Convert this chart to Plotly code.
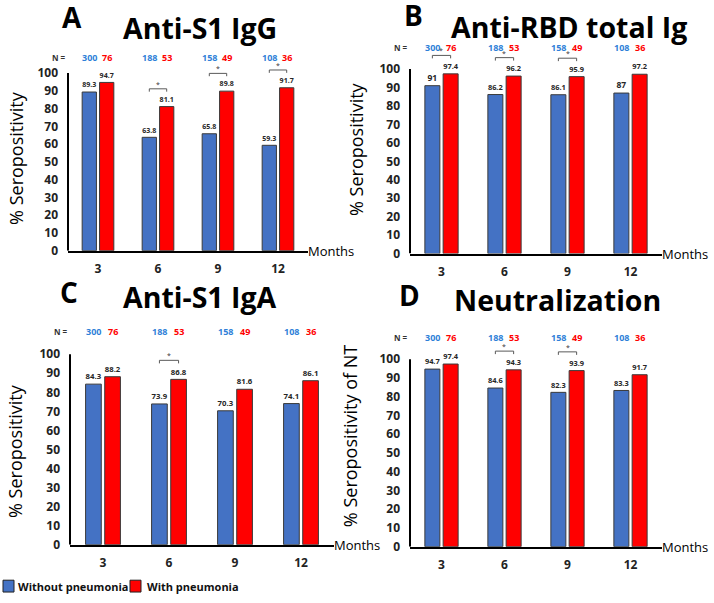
import plotly.graph_objects as go

# ---------------- data ----------------
months = ["3", "6", "9", "12"]
n_without = [300, 188, 158, 108]
n_with = [76, 53, 49, 36]

igg_without = [89.3, 63.8, 65.8, 59.3]
igg_with = [94.7, 81.1, 89.8, 91.7]
igg_sig = [1, 2, 3]

rbd_without = [91, 86.2, 86.1, 87]
rbd_with = [97.4, 96.2, 95.9, 97.2]
rbd_sig = [0, 1, 2]

iga_without = [84.3, 73.9, 70.3, 74.1]
iga_with = [88.2, 86.8, 81.6, 86.1]
iga_sig = [1]

nt_without = [94.7, 84.6, 82.3, 83.3]
nt_with = [97.4, 94.3, 93.9, 91.7]
nt_sig = [1, 2]

series_names = ["Without pneumonia", "With pneumonia"]
y_ticks = [0, 10, 20, 30, 40, 50, 60, 70, 80, 90, 100]

# ---------------- styling ----------------
W, H = 714, 603
FONT = "Open Sans"
BLUE = "#4472C4"
RED = "#FF0000"
N_BLUE = "#2F7FD8"
OUTLINE = "#3a3a3a"
BARGAP = 0.42
BARGROUPGAP = 0.18
OFF = (1 - BARGAP) / 4  # centre offset of each bar within its group


def px_x(p):
    return p / W


def px_y(p):
    return 1 - p / H


panels = [
    dict(letter="A", title="Anti-S1 IgG", ytitle="% Seropositivity",
         a=igg_without, b=igg_with, sig=igg_sig,
         x0=68, x1=308, zero=254, hundred=74, n_y=58,
         letter_xy=(72, 17), title_xy=(200, 28), ytitle_xy=(16, 160)),
    dict(letter="B", title="Anti-RBD total Ig", ytitle="% Seropositivity",
         a=rbd_without, b=rbd_with, sig=rbd_sig,
         x0=410, x1=662, zero=257, hundred=70, n_y=48,
         letter_xy=(413, 15), title_xy=(569, 27), ytitle_xy=(356, 151)),
    dict(letter="C", title="Anti-S1 IgA", ytitle="% Seropositivity",
         a=iga_without, b=iga_with, sig=iga_sig,
         x0=70, x1=334, zero=552, hundred=359, n_y=336,
         letter_xy=(69, 296), title_xy=(200, 301), ytitle_xy=(15, 457)),
    dict(letter="D", title="Neutralization", ytitle="% Seropositivity of NT",
         a=nt_without, b=nt_with, sig=nt_sig,
         x0=410, x1=662, zero=554, hundred=364, n_y=342,
         letter_xy=(410, 299), title_xy=(557, 304), ytitle_xy=(350, 442)),
]

fig = go.Figure()
annotations = []
shapes = []
layout_axes = {}
cats = list(range(len(months)))


def paper_text(x, y, text, size, weight="normal", angle=0, xanchor="center", color="black"):
    return dict(x=x, y=y, xref="paper", yref="paper", text=text, showarrow=False,
                xanchor=xanchor, yanchor="middle", textangle=angle,
                font=dict(family=FONT, size=size, color=color, weight=weight))


for k, p in enumerate(panels):
    idx = "" if k == 0 else str(k + 1)
    xa, ya = "x" + idx, "y" + idx
    scale = (p["zero"] - p["hundred"]) / 100.0
    top = p["zero"] - 110 * scale

    for vals, color, name in ((p["a"], BLUE, series_names[0]), (p["b"], RED, series_names[1])):
        fig.add_trace(go.Bar(
            x=cats, y=vals, name=name, xaxis=xa, yaxis=ya,
            marker=dict(color=color, line=dict(color=OUTLINE, width=1)),
            text=[f"{v:g}" for v in vals], textposition="outside",
            textfont=dict(family=FONT, size=8.5, color="#262626", weight="bold"),
            cliponaxis=False, showlegend=False, hoverinfo="x+y",
        ))

    # significance brackets
    for i in p["sig"]:
        h = p["b"][i] + 10
        fig.add_trace(go.Scatter(
            x=[i - OFF, i - OFF, i + OFF, i + OFF], y=[h - 1.6, h, h, h - 1.6],
            mode="lines", line=dict(color="#595959", width=1),
            xaxis=xa, yaxis=ya, showlegend=False, hoverinfo="skip",
        ))
        annotations.append(dict(x=i, y=h, xref=xa, yref=ya, text="*", showarrow=False,
                                xanchor="center", yanchor="bottom", yshift=-2,
                                font=dict(family=FONT, size=7, color="#333")))

    layout_axes["xaxis" + idx] = dict(
        domain=[px_x(p["x0"]), px_x(p["x1"])], anchor=ya, range=[-0.5, len(months) - 0.5],
        tickvals=cats, ticktext=months, showgrid=False, zeroline=False,
        showline=True, linecolor="black", linewidth=2, ticks="", ticklabelstandoff=6,
        tickfont=dict(family=FONT, size=12, color="#222", weight="bold"), fixedrange=True,
    )
    layout_axes["yaxis" + idx] = dict(
        domain=[px_y(p["zero"]), px_y(top)], anchor=xa, range=[0, 110],
        tickvals=y_ticks, showgrid=False, zeroline=False, showline=False, ticks="",
        ticklabelstandoff=9,
        tickfont=dict(family=FONT, size=12, color="#222", weight="bold"), fixedrange=True,
    )
    # y axis line only up to 100
    shapes.append(dict(type="line", xref=xa + " domain", yref=ya, x0=0, x1=0, y0=0, y1=100,
                       line=dict(color="black", width=2)))

    # Months label
    annotations.append(dict(x=1, y=0, xref=xa + " domain", yref=ya, text="Months",
                            showarrow=False, xanchor="left", yanchor="middle", xshift=-2,
                            font=dict(family=FONT, size=13, color="black")))
    # N row
    ny = px_y(p["n_y"])
    annotations.append(dict(x=0, y=ny, xref=xa + " domain", yref="paper", text="N =",
                            showarrow=False, xanchor="center", yanchor="middle", xshift=-9,
                            font=dict(family=FONT, size=8, color="#333", weight="bold")))
    for i in cats:
        annotations.append(dict(x=i - OFF, y=ny, xref=xa, yref="paper", text=str(n_without[i]),
                                showarrow=False, xanchor="center", yanchor="middle",
                                font=dict(family=FONT, size=9, color=N_BLUE, weight="bold")))
        annotations.append(dict(x=i + OFF, y=ny, xref=xa, yref="paper", text=str(n_with[i]),
                                showarrow=False, xanchor="center", yanchor="middle",
                                font=dict(family=FONT, size=9, color=RED, weight="bold")))
    # titles
    lx, ly = p["letter_xy"]
    annotations.append(paper_text(px_x(lx), px_y(ly), p["letter"], 28, "bold"))
    tx, ty = p["title_xy"]
    annotations.append(paper_text(px_x(tx), px_y(ty), p["title"], 28.5, "bold"))
    yx, yy = p["ytitle_xy"]
    annotations.append(paper_text(px_x(yx), px_y(yy), p["ytitle"], 18, angle=-90))

# manual legend (bottom-left)
legend_items = [(series_names[0], BLUE, 3, 16), (series_names[1], RED, 130, 145)]
for name, color, sx, tx in legend_items:
    shapes.append(dict(type="rect", xref="paper", yref="paper",
                       x0=px_x(sx), x1=px_x(sx + 11), y0=px_y(600), y1=px_y(588),
                       fillcolor=color, line=dict(color="#222", width=1)))
    annotations.append(paper_text(px_x(tx), px_y(594), name, 11, "bold",
                                  xanchor="left", color="#111"))

fig.update_layout(
    width=W, height=H, margin=dict(l=0, r=0, t=0, b=0),
    paper_bgcolor="white", plot_bgcolor="white",
    barmode="group", bargap=BARGAP, bargroupgap=BARGROUPGAP,
    showlegend=False, annotations=annotations, shapes=shapes,
    font=dict(family=FONT),
    **layout_axes,
)

fig.write_html("out.html", config={"displayModeBar": False},
               post_script="document.body.style.margin='0';document.body.style.overflow='hidden';")
